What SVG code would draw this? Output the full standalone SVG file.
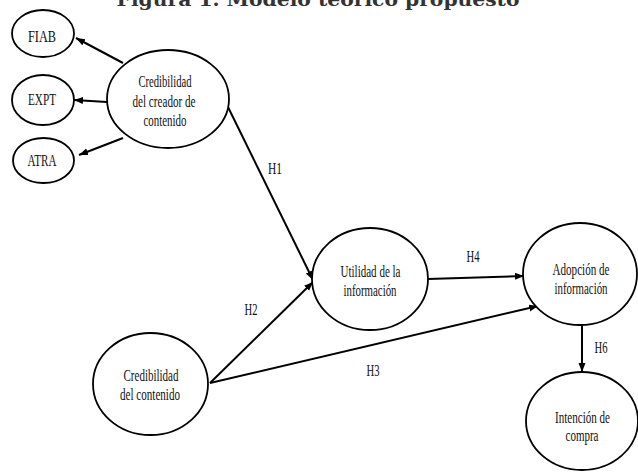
<svg xmlns="http://www.w3.org/2000/svg" width="638" height="473" viewBox="0 0 638 473">
  <style>
    .node ellipse { fill: #fff; stroke: #000; stroke-width: 1.8; }
    .t { font-family: "Liberation Serif", "Times New Roman", serif; font-size: 16px; fill: #111; text-anchor: middle; }
    .edge { stroke: #000; stroke-width: 2; fill: none; marker-end: url(#arr); }
    .title { font-family: "DejaVu Serif", "Liberation Serif", serif; font-weight: bold; font-size: 19px; fill: #333; text-anchor: middle; }
  </style>
  <defs>
    <marker id="arr" markerUnits="userSpaceOnUse" markerWidth="10" markerHeight="8" refX="9" refY="3.5" orient="auto">
      <path d="M0,0 L9,3.5 L0,7 z" fill="#000"/>
    </marker>
  </defs>
  <rect width="638" height="473" fill="#fff"/>
  <text class="title" x="318" y="6" textLength="403" lengthAdjust="spacingAndGlyphs">Figura 1. Modelo teórico propuesto</text>

  <g id="connectors">
    <line class="edge" x1="123" y1="63" x2="76" y2="38"/>
    <line class="edge" x1="107" y1="102" x2="74" y2="100"/>
    <line class="edge" x1="123" y1="138" x2="79" y2="155"/>
    <line class="edge" x1="227" y1="105" x2="313" y2="280"/>
    <line class="edge" x1="210" y1="383" x2="313" y2="282"/>
    <line class="edge" x1="210" y1="383" x2="538" y2="306"/>
    <line class="edge" x1="428" y1="279" x2="524" y2="276"/>
    <line class="edge" x1="582" y1="325" x2="582" y2="372"/>
    <text class="t" x="275" y="174" textLength="14" lengthAdjust="spacingAndGlyphs">H1</text>
    <text class="t" x="251" y="315" textLength="13" lengthAdjust="spacingAndGlyphs">H2</text>
    <text class="t" x="373" y="376" textLength="13" lengthAdjust="spacingAndGlyphs">H3</text>
    <text class="t" x="473" y="262" textLength="13" lengthAdjust="spacingAndGlyphs">H4</text>
    <text class="t" x="601" y="353" textLength="13" lengthAdjust="spacingAndGlyphs">H6</text>
  </g>

  <g id="fiab" class="node">
    <ellipse cx="43" cy="33.5" rx="31" ry="23.5"/>
    <text class="t" x="42" y="42" textLength="28" lengthAdjust="spacingAndGlyphs">FIAB</text>
  </g>
  <g id="expt" class="node">
    <ellipse cx="43" cy="100" rx="31" ry="25"/>
    <text class="t" x="42" y="105" textLength="28" lengthAdjust="spacingAndGlyphs">EXPT</text>
  </g>
  <g id="atra" class="node">
    <ellipse cx="43.5" cy="160.5" rx="30.5" ry="22.5"/>
    <text class="t" x="42" y="166" textLength="29" lengthAdjust="spacingAndGlyphs">ATRA</text>
  </g>
  <g id="creador" class="node">
    <ellipse cx="168" cy="99" rx="61" ry="49"/>
    <text class="t" x="165" y="87" textLength="53" lengthAdjust="spacingAndGlyphs">Credibilidad</text>
    <text class="t" x="164" y="106.5" textLength="63" lengthAdjust="spacingAndGlyphs">del creador de</text>
    <text class="t" x="165" y="126" textLength="43" lengthAdjust="spacingAndGlyphs">contenido</text>
  </g>
  <g id="utilidad" class="node">
    <ellipse cx="370" cy="279" rx="58" ry="51"/>
    <text class="t" x="370.5" y="277" textLength="60" lengthAdjust="spacingAndGlyphs">Utilidad  de la</text>
    <text class="t" x="370" y="296" textLength="53" lengthAdjust="spacingAndGlyphs">información</text>
  </g>
  <g id="adopcion" class="node">
    <ellipse cx="580" cy="274" rx="57" ry="51"/>
    <text class="t" x="581" y="275" textLength="57" lengthAdjust="spacingAndGlyphs">Adopción de</text>
    <text class="t" x="581" y="294" textLength="53" lengthAdjust="spacingAndGlyphs">información</text>
  </g>
  <g id="contenido" class="node">
    <ellipse cx="150.5" cy="384" rx="57.5" ry="51"/>
    <text class="t" x="151" y="381" textLength="55" lengthAdjust="spacingAndGlyphs">Credibilidad</text>
    <text class="t" x="150" y="400" textLength="60" lengthAdjust="spacingAndGlyphs">del contenido</text>
  </g>
  <g id="intencion" class="node">
    <ellipse cx="582" cy="421" rx="56" ry="49"/>
    <text class="t" x="582.5" y="423" textLength="55" lengthAdjust="spacingAndGlyphs">Intención de</text>
    <text class="t" x="582" y="441" textLength="33" lengthAdjust="spacingAndGlyphs">compra</text>
  </g>
</svg>
